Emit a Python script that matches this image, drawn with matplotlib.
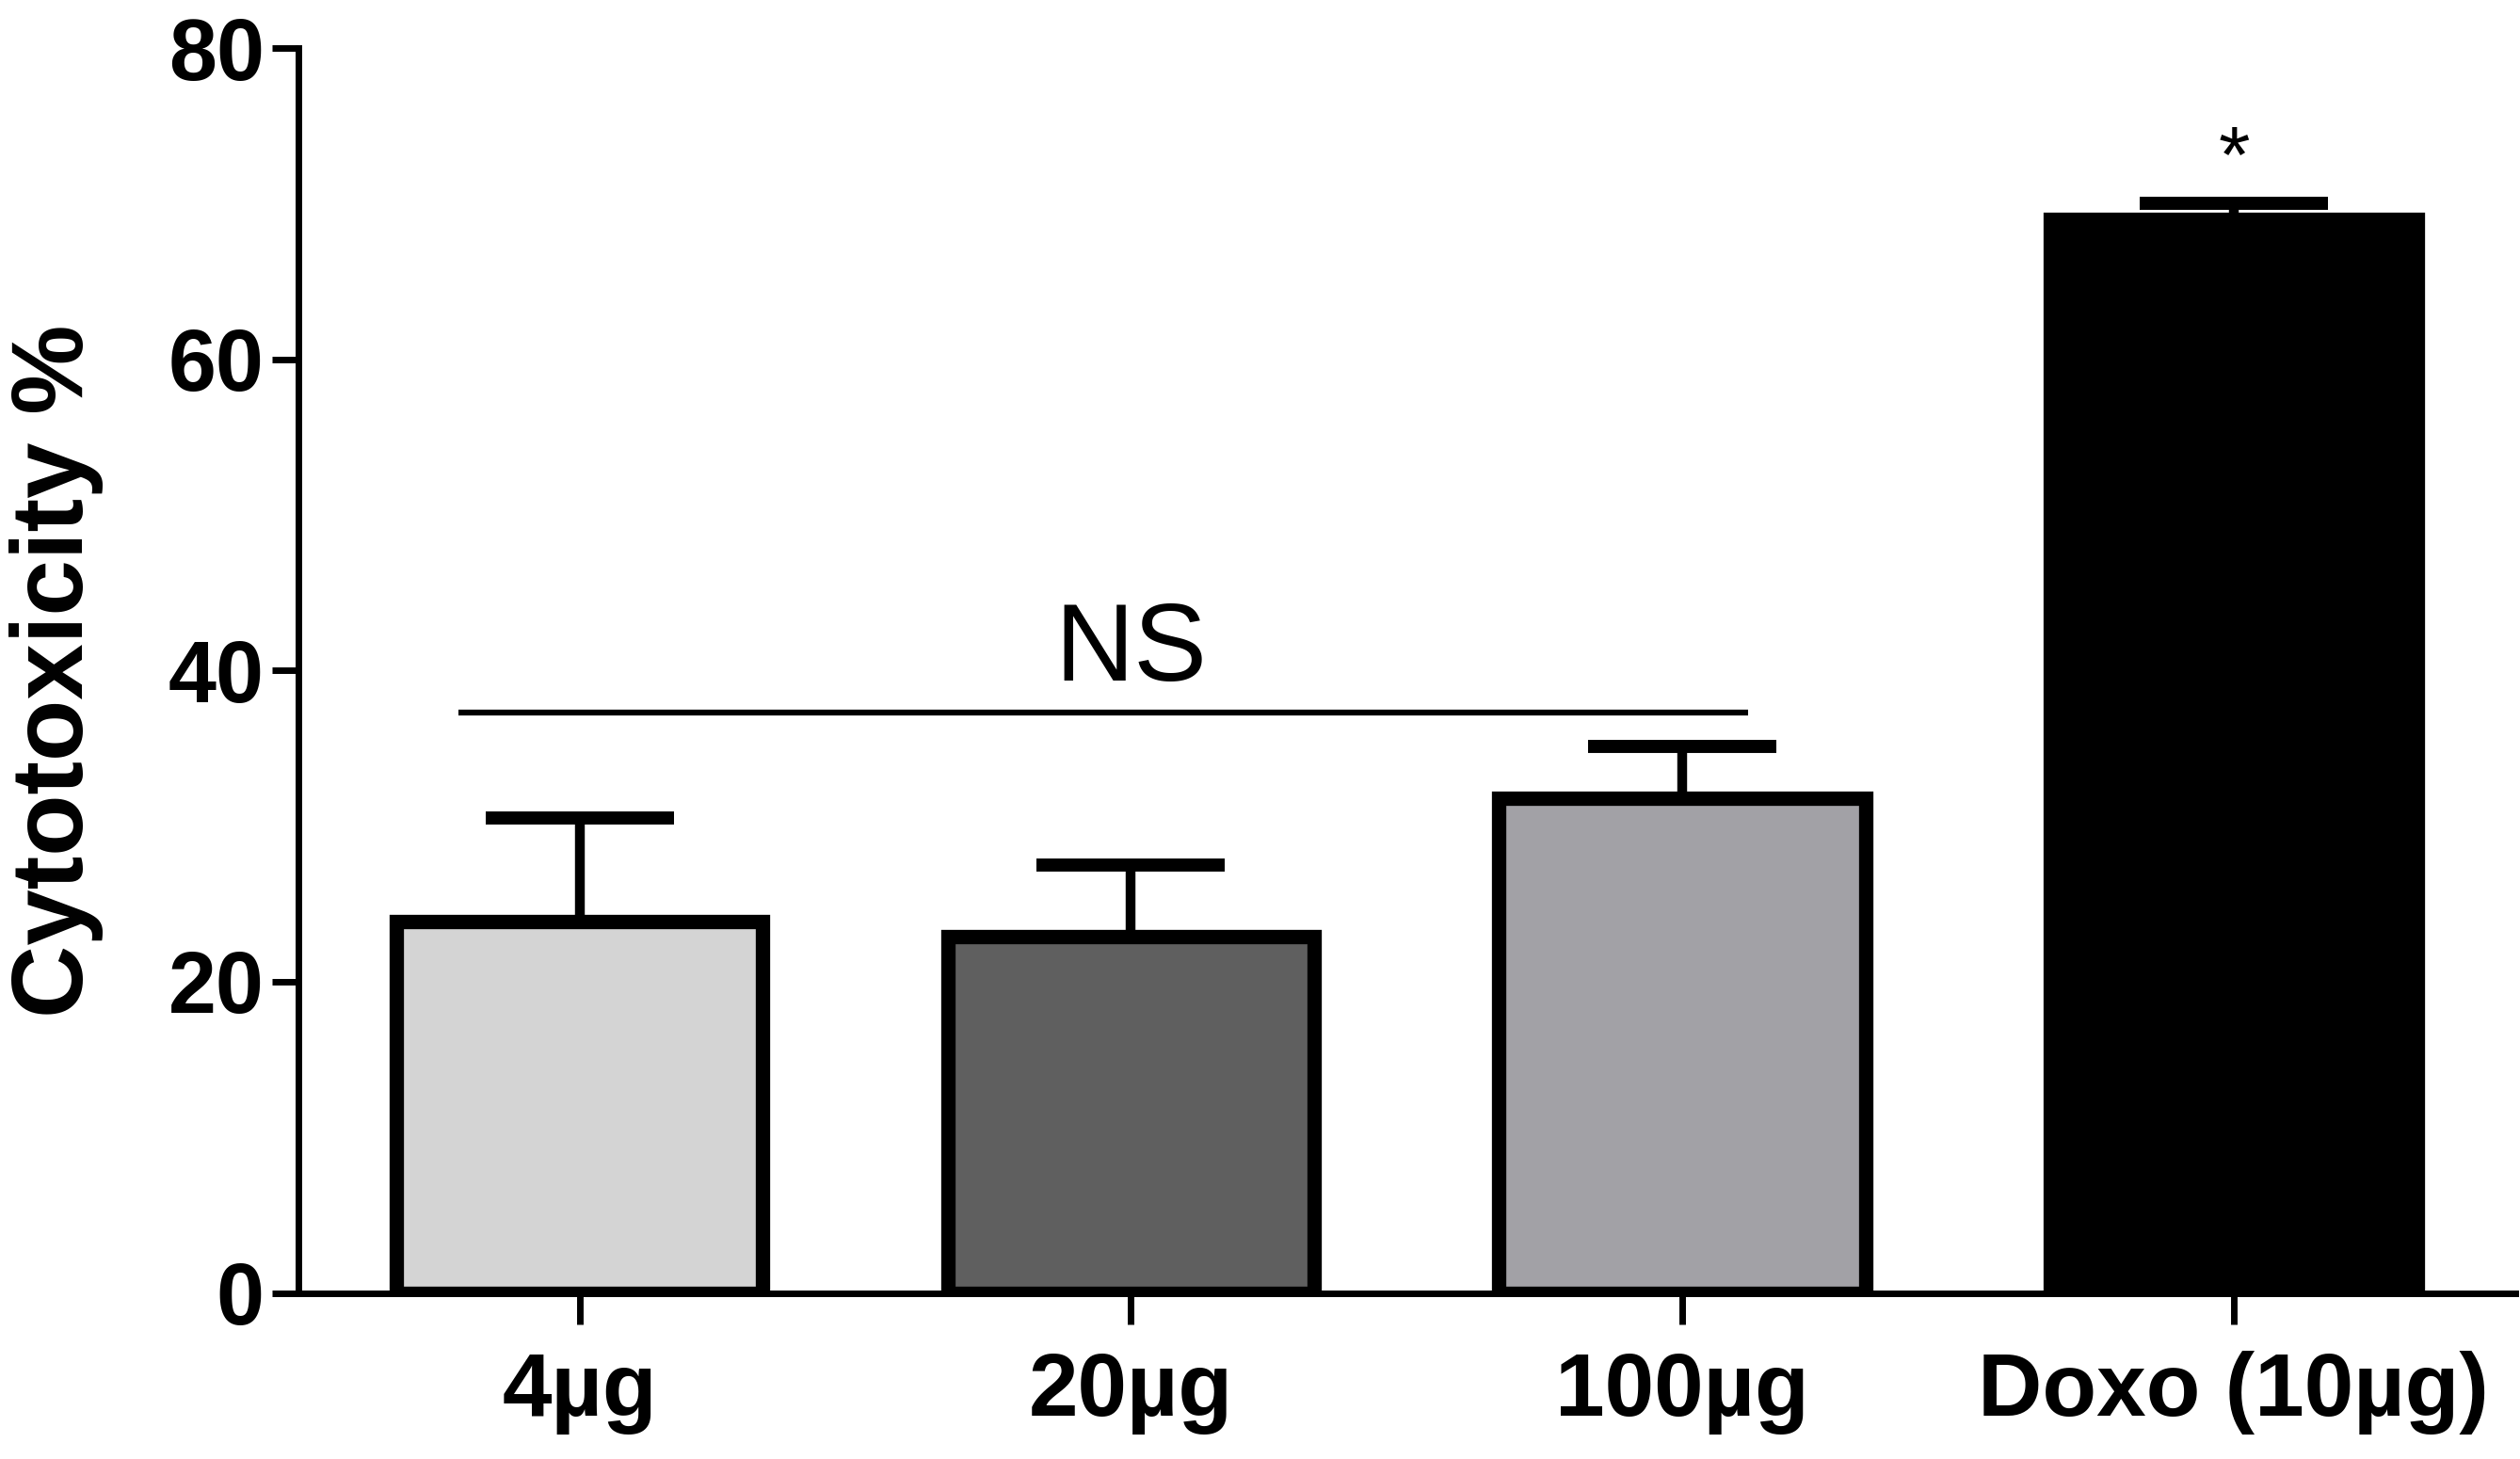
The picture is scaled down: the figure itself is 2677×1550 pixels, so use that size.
import numpy as np
import matplotlib.pyplot as plt

plt.rcParams['font.family'] = ['Liberation Sans', 'DejaVu Sans']

# data
groups = ['4µg', '20µg', '100µg', 'Doxo (10µg)']
cytotox = [23.9, 22.9, 31.8, 69.0]
sem = [6.6, 4.6, 3.3, 1.0]
bar_colors = ['#d4d4d4', '#5f5f5f', '#a2a1a6', '#000000']
ns_span = [-0.22, 2.12]
ns_level = 37.3
yticks = [0, 20, 40, 60, 80]

fig = plt.figure(figsize=(26.77, 15.5), dpi=100)
ax = fig.add_axes([0.1184, 0.1138, 0.8796, 0.8532])

x = np.arange(len(groups))
ax.bar(x, cytotox, width=0.665, color=bar_colors, edgecolor='black',
       linewidth=11, zorder=3)
ax.errorbar(x, cytotox, yerr=[np.zeros(len(sem)), sem], fmt='none',
            ecolor='black', elinewidth=7.5, capsize=72, capthick=10, zorder=2)

# significance annotations
ax.plot(ns_span, [ns_level, ns_level], color='black', lw=4.5,
        solid_capstyle='butt')
ax.text(1.0, ns_level + 0.6, 'NS', ha='center', va='bottom', fontsize=84)
ax.text(3, cytotox[3] + sem[3] + 0.3, '*', ha='center', va='bottom',
        fontsize=62)

ax.set_xlim(-0.51, 3.51)
ax.set_ylim(0, 80)
ax.set_yticks(yticks)
ax.set_yticklabels([str(t) for t in yticks], fontweight='bold', fontsize=66)
ax.set_xticks(x)
ax.set_xticklabels(groups, fontweight='bold', fontsize=68)
ax.tick_params(axis='y', length=20, width=5, pad=6)
ax.tick_params(axis='x', length=24, width=5, pad=20)

for s in ['top', 'right']:
    ax.spines[s].set_visible(False)
for s in ['left', 'bottom']:
    ax.spines[s].set_linewidth(5)

ax.set_ylabel('Cytotoxicity %', fontweight='bold', fontsize=77)
ax.yaxis.set_label_coords(-0.088, 0.5)

fig.savefig('out.png', dpi=100)
